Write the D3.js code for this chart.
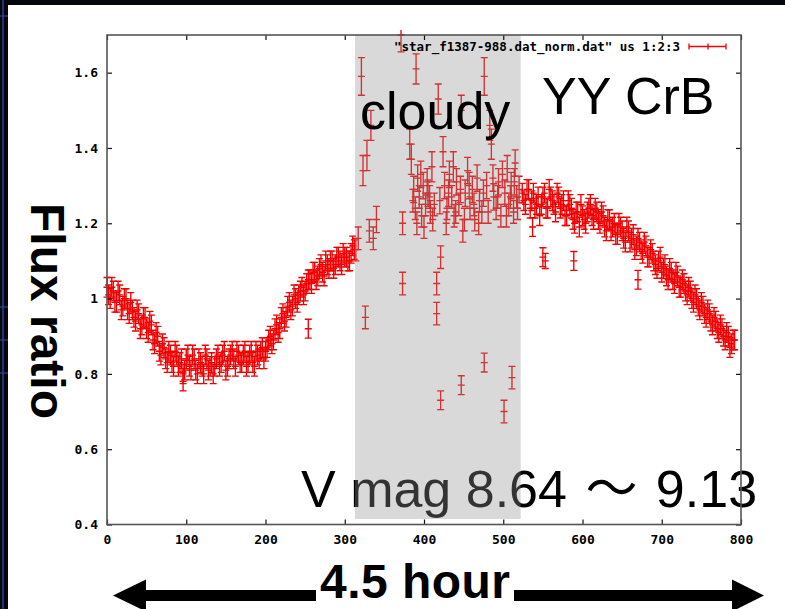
<!DOCTYPE html>
<html>
<head>
<meta charset="utf-8">
<title>YY CrB flux ratio</title>
<script src="https://d3js.org/d3.v7.min.js"></script>
<style>
  body { margin: 0; background: #05070f; }
</style>
</head>
<body>
<div id="chart"></div>
<script>
// ---- data ----
// first clear stretch, frames 0,4,8,...
const clearA = [1.03, 1.00, 1.02, 0.99, 1.01, 0.98, 1.00, 0.96, 0.97, 0.94,
  0.96, 0.93, 0.95, 0.91, 0.93, 0.88, 0.90, 0.85, 0.87, 0.83,
  0.85, 0.82, 0.85, 0.83, 0.80, 0.84, 0.82, 0.85, 0.81, 0.84,
  0.82, 0.85, 0.81, 0.83, 0.82, 0.85, 0.83, 0.86, 0.82, 0.85,
  0.84, 0.86, 0.83, 0.85, 0.82, 0.85, 0.83, 0.86, 0.84, 0.87,
  0.86, 0.89, 0.88, 0.92, 0.91, 0.95, 0.94, 0.98, 0.97, 1.01,
  0.99, 1.02, 1.01, 1.04, 1.05, 1.07, 1.05, 1.08, 1.07, 1.10,
  1.08, 1.10, 1.09, 1.11, 1.09, 1.11, 1.10, 1.12, 1.13];
const clearAStart = 0;
// same stretch, frames 2,6,10,...
const clearA2 = [1.01, 1.03, 0.99, 1.02, 0.97, 1.00, 0.97, 0.99, 0.95, 0.97,
  0.92, 0.95, 0.92, 0.94, 0.89, 0.91, 0.86, 0.88, 0.84, 0.86,
  0.83, 0.86, 0.82, 0.84, 0.81, 0.85, 0.81, 0.84, 0.80, 0.83,
  0.80, 0.84, 0.82, 0.80, 0.84, 0.82, 0.85, 0.81, 0.84, 0.86,
  0.82, 0.85, 0.83, 0.86, 0.83, 0.86, 0.82, 0.85, 0.86, 0.84,
  0.87, 0.90, 0.89, 0.93, 0.92, 0.96, 0.95, 0.99, 0.98, 1.00,
  1.01, 1.03, 1.02, 1.05, 1.04, 1.07, 1.06, 1.09, 1.06, 1.09,
  1.10, 1.08, 1.11, 1.10, 1.12, 1.11, 1.10, 1.14];
const clearA2Start = 2;

// second clear stretch, after the clouds, frames 524,528,...
const clearB = [1.28, 1.25, 1.29, 1.26, 1.24, 1.27, 1.25, 1.28, 1.24, 1.27,
  1.25, 1.28, 1.24, 1.26, 1.22, 1.25, 1.21, 1.23, 1.19, 1.22,
  1.20, 1.24, 1.22, 1.24, 1.21, 1.23, 1.19, 1.21, 1.18, 1.20,
  1.17, 1.19, 1.16, 1.19, 1.15, 1.17, 1.14, 1.15, 1.12, 1.14,
  1.11, 1.12, 1.09, 1.10, 1.07, 1.09, 1.05, 1.07, 1.04, 1.06,
  1.03, 1.04, 1.01, 1.02, 0.99, 1.00, 0.97, 0.98, 0.95, 0.96,
  0.93, 0.94, 0.91, 0.92, 0.89, 0.90, 0.88, 0.89];
const clearBStart = 524;
// frames 526,530,...
const clearB2 = [1.26, 1.29, 1.24, 1.28, 1.25, 1.22, 1.27, 1.24, 1.29, 1.26,
  1.23, 1.27, 1.25, 1.22, 1.26, 1.24, 1.20, 1.23, 1.25, 1.21,
  1.23, 1.25, 1.21, 1.23, 1.20, 1.22, 1.18, 1.21, 1.19, 1.17,
  1.20, 1.18, 1.15, 1.18, 1.16, 1.13, 1.16, 1.13, 1.15, 1.11,
  1.13, 1.10, 1.08, 1.11, 1.08, 1.06, 1.08, 1.05, 1.07, 1.03,
  1.05, 1.02, 1.03, 1.00, 1.01, 0.98, 0.99, 0.96, 0.97, 0.94,
  0.95, 0.92, 0.93, 0.90, 0.91, 0.87, 0.89];
const clearB2Start = 526;
const frameStep = 4;
const clearErr = 0.026;

// odd points in the clear stretches: [frame, flux, error]
const strays = [[96, 0.78, 0.025], [254, 0.92, 0.025], [537, 1.19, 0.025],
  [550, 1.11, 0.025], [553, 1.10, 0.02], [589, 1.10, 0.025], [670, 1.05, 0.025]];

// points taken while cloudy: [frame, flux, error]
const cloudyPts = [
  [314, 1.13, 0.03], [317, 1.16, 0.03], [321, 1.59, 0.05], [323, 1.34, 0.04],
  [326, 0.95, 0.03], [328, 1.38, 0.04], [331, 1.18, 0.03], [333, 1.46, 0.04],
  [336, 1.16, 0.03], [340, 1.21, 0.035], [371, 1.70, 0.045], [373, 1.20, 0.03],
  [373, 1.04, 0.03], [382, 1.41, 0.04], [384, 1.37, 0.04], [387, 1.29, 0.035],
  [389, 1.24, 0.03], [390, 1.61, 0.04], [392, 1.32, 0.035], [394, 1.27, 0.03],
  [397, 1.22, 0.03], [399, 1.30, 0.035], [402, 1.25, 0.03], [405, 1.28, 0.035],
  [408, 1.23, 0.03], [411, 1.21, 0.03], [416, 1.04, 0.03], [416, 0.96, 0.03],
  [418, 1.53, 0.04], [420, 1.26, 0.035], [421, 1.11, 0.03], [421, 0.73, 0.025],
  [424, 1.39, 0.04], [426, 1.30, 0.035], [429, 1.24, 0.03], [432, 1.33, 0.035],
  [435, 1.27, 0.03], [438, 1.22, 0.03], [441, 1.31, 0.035], [444, 1.25, 0.03],
  [447, 1.50, 0.04], [447, 0.77, 0.025], [449, 1.18, 0.03], [452, 1.28, 0.035],
  [455, 1.34, 0.035], [458, 1.24, 0.03], [461, 1.29, 0.035], [464, 1.21, 0.03],
  [467, 1.32, 0.035], [470, 1.26, 0.03], [473, 1.23, 0.03], [476, 1.59, 0.05],
  [476, 0.83, 0.025], [479, 1.30, 0.035], [483, 1.46, 0.04], [485, 1.41, 0.04],
  [488, 1.27, 0.035], [491, 1.24, 0.03], [494, 1.31, 0.035], [497, 1.22, 0.03],
  [501, 0.70, 0.03], [502, 1.28, 0.035], [505, 1.345, 0.035], [507, 1.25, 0.03],
  [510, 1.30, 0.035], [511, 0.79, 0.03], [513, 1.23, 0.03], [515, 1.36, 0.035],
  [517, 1.27, 0.03], [520, 1.29, 0.035],
  [386, 1.26, 0.03], [391, 1.20, 0.03], [396, 1.33, 0.035], [400, 1.19, 0.03],
  [404, 1.31, 0.035], [407, 1.27, 0.03], [410, 1.35, 0.04], [413, 1.25, 0.03],
  [428, 1.20, 0.03], [431, 1.28, 0.035], [437, 1.35, 0.04], [440, 1.23, 0.03],
  [446, 1.29, 0.035], [451, 1.21, 0.03], [457, 1.30, 0.035], [463, 1.25, 0.03],
  [469, 1.20, 0.03], [475, 1.28, 0.035], [481, 1.23, 0.03], [487, 1.32, 0.035],
  [493, 1.27, 0.03], [499, 1.33, 0.035], [504, 1.22, 0.03], [509, 1.27, 0.03],
  [514, 1.31, 0.035], [518, 1.24, 0.03]];

const cloudySpan = [313, 522];
const xTicks = [0, 100, 200, 300, 400, 500, 600, 700, 800];
const yTicks = [0.4, 0.6, 0.8, 1.0, 1.2, 1.4, 1.6];
const yTickLabels = ["0.4", "0.6", "0.8", "1", "1.2", "1.4", "1.6"];

// build one list of error bars
let points = [];
function addStretch(vals, start) {
  vals.forEach(function (v, i) { points.push([start + i * frameStep, v, clearErr]); });
}
addStretch(clearA, clearAStart);
addStretch(clearA2, clearA2Start);
addStretch(clearB, clearBStart);
addStretch(clearB2, clearB2Start);
points = points.concat(strays, cloudyPts);

// ---- drawing ----
const width = 785, height = 609;
const svg = d3.select("#chart").append("svg")
  .attr("width", width).attr("height", height);

// slide background: dark edges, white page
svg.append("rect").attr("width", width).attr("height", height).attr("fill", "#05070f");
svg.append("line").attr("x1", 3).attr("x2", 3).attr("y1", 0).attr("y2", height)
  .attr("stroke", "#29468a").attr("stroke-width", 1.5);
[16, 307, 340, 373].forEach(function (yy) {
  svg.append("line").attr("x1", 0).attr("x2", 8).attr("y1", yy).attr("y2", yy)
    .attr("stroke", "#29468a").attr("stroke-width", 1.2);
});
svg.append("rect").attr("x", 8).attr("y", 5).attr("width", width - 8).attr("height", height - 5)
  .attr("fill", "#ffffff");

const x = d3.scaleLinear().domain([0, 800]).range([107, 741]);
const y = d3.scaleLinear().domain([0.4, 1.7]).range([524.5, 35]);

const bigFont = "'Liberation Sans', Arial, sans-serif";

// V mag text sits under the cloud band
const vmag = svg.append("text")
  .attr("x", 301).attr("y", 507)
  .attr("font-family", "'Liberation Sans', Arial, 'Noto Sans CJK JP', sans-serif")
  .attr("font-size", 52)
  .attr("fill", "#000");
vmag.append("tspan").text("V mag 8.64 ");
vmag.append("tspan").attr("dx", 4).text("\u301C");
vmag.append("tspan").attr("dx", 4).text(" 9.13");

// error bars
svg.append("clipPath").attr("id", "clip")
  .append("rect").attr("x", 95).attr("y", 30).attr("width", 660).attr("height", 500);

const bars = svg.append("g").attr("clip-path", "url(#clip)")
  .attr("stroke", "#f00000").attr("stroke-width", 1.35).attr("fill", "none");
const cap = 3.5;
bars.selectAll("path")
  .data(points)
  .enter()
  .append("path")
  .attr("d", function (d) {
    const px = x(d[0]), lo = y(d[1] - d[2]), hi = y(d[1] + d[2]), c = y(d[1]);
    return "M" + px + "," + lo + "V" + hi +
      "M" + (px - cap) + "," + lo + "H" + (px + cap) +
      "M" + (px - cap) + "," + hi + "H" + (px + cap) +
      "M" + (px - cap) + "," + c + "H" + (px + cap);
  });

// cloudy band, a see-through gray
svg.append("rect")
  .attr("x", x(cloudySpan[0])).attr("y", 35)
  .attr("width", x(cloudySpan[1]) - x(cloudySpan[0]))
  .attr("height", 519 - 35)
  .attr("fill", "rgb(146,146,146)").attr("fill-opacity", 0.35);

// frame and ticks (gnuplot style, ticks inside on all sides)
const tickFont = "'DejaVu Sans Mono', 'Liberation Mono', monospace";

const xAxis = svg.append("g").attr("transform", "translate(0," + y(0.4) + ")")
  .call(d3.axisBottom(x).tickValues(xTicks).tickSizeInner(-5).tickSizeOuter(0).tickPadding(10)
    .tickFormat(d3.format("d")));
const xAxisTop = svg.append("g").attr("transform", "translate(0," + y(1.7) + ")")
  .call(d3.axisTop(x).tickValues(xTicks).tickSizeInner(-5).tickSizeOuter(0).tickFormat(""));
const yAxis = svg.append("g").attr("transform", "translate(" + x(0) + ",0)")
  .call(d3.axisLeft(y).tickValues(yTicks).tickSizeInner(-5).tickSizeOuter(0).tickPadding(9)
    .tickFormat(function (d, i) { return yTickLabels[i]; }));
const yAxisRight = svg.append("g").attr("transform", "translate(" + x(800) + ",0)")
  .call(d3.axisRight(y).tickValues(yTicks).tickSizeInner(-5).tickSizeOuter(0).tickFormat(""));

[xAxis, xAxisTop, yAxis, yAxisRight].forEach(function (g) {
  g.select(".domain").remove();
  g.selectAll(".tick line").attr("stroke", "#111").attr("stroke-width", 1.2);
  g.selectAll("text")
    .attr("font-family", tickFont)
    .attr("font-weight", "bold")
    .attr("font-size", 13)
    .attr("fill", "#000");
});

svg.append("rect")
  .attr("x", x(0)).attr("y", y(1.7))
  .attr("width", x(800) - x(0)).attr("height", y(0.4) - y(1.7))
  .attr("fill", "none").attr("stroke", "#555").attr("stroke-width", 1.6);

// legend
svg.append("text")
  .attr("x", 680).attr("y", 51)
  .attr("text-anchor", "end")
  .attr("font-family", tickFont)
  .attr("font-weight", "bold")
  .attr("font-size", 12.5)
  .attr("fill", "#000")
  .text("\"star_f1387-988.dat_norm.dat\" us 1:2:3");
svg.append("path")
  .attr("d", "M689,46.5H726M689,43.5V49.5M726,43.5V49.5M708,43.5V49.5")
  .attr("stroke", "#f00000").attr("stroke-width", 1.3).attr("fill", "none");

// annotations
svg.append("text").attr("x", 360).attr("y", 129)
  .attr("font-family", bigFont).attr("font-size", 52).attr("fill", "#000")
  .text("cloudy");
svg.append("text").attr("x", 542).attr("y", 114)
  .attr("font-family", bigFont).attr("font-size", 52).attr("fill", "#000")
  .text("YY CrB");

svg.append("text")
  .attr("transform", "translate(31,311) rotate(90)")
  .attr("text-anchor", "middle")
  .attr("font-family", bigFont).attr("font-weight", "bold").attr("font-size", 48)
  .attr("fill", "#000")
  .text("Flux ratio");

// 4.5 hour double arrow
const arrowY = 595.5;
svg.append("rect").attr("x", 143).attr("y", arrowY - 5.5).attr("width", 592).attr("height", 11)
  .attr("fill", "#000");
svg.append("path").attr("d", "M113," + arrowY + "L146," + (arrowY - 16) + "L146," + (arrowY + 16) + "Z")
  .attr("fill", "#000");
svg.append("path").attr("d", "M764," + arrowY + "L732," + (arrowY - 16) + "L732," + (arrowY + 16) + "Z")
  .attr("fill", "#000");
svg.append("rect").attr("x", 316).attr("y", 558).attr("width", 198).attr("height", 51)
  .attr("fill", "#fff");
svg.append("text").attr("x", 320).attr("y", 598)
  .attr("font-family", bigFont).attr("font-weight", "bold").attr("font-size", 48)
  .attr("textLength", 190).attr("lengthAdjust", "spacing")
  .attr("fill", "#000")
  .text("4.5 hour");
</script>
</body>
</html>
